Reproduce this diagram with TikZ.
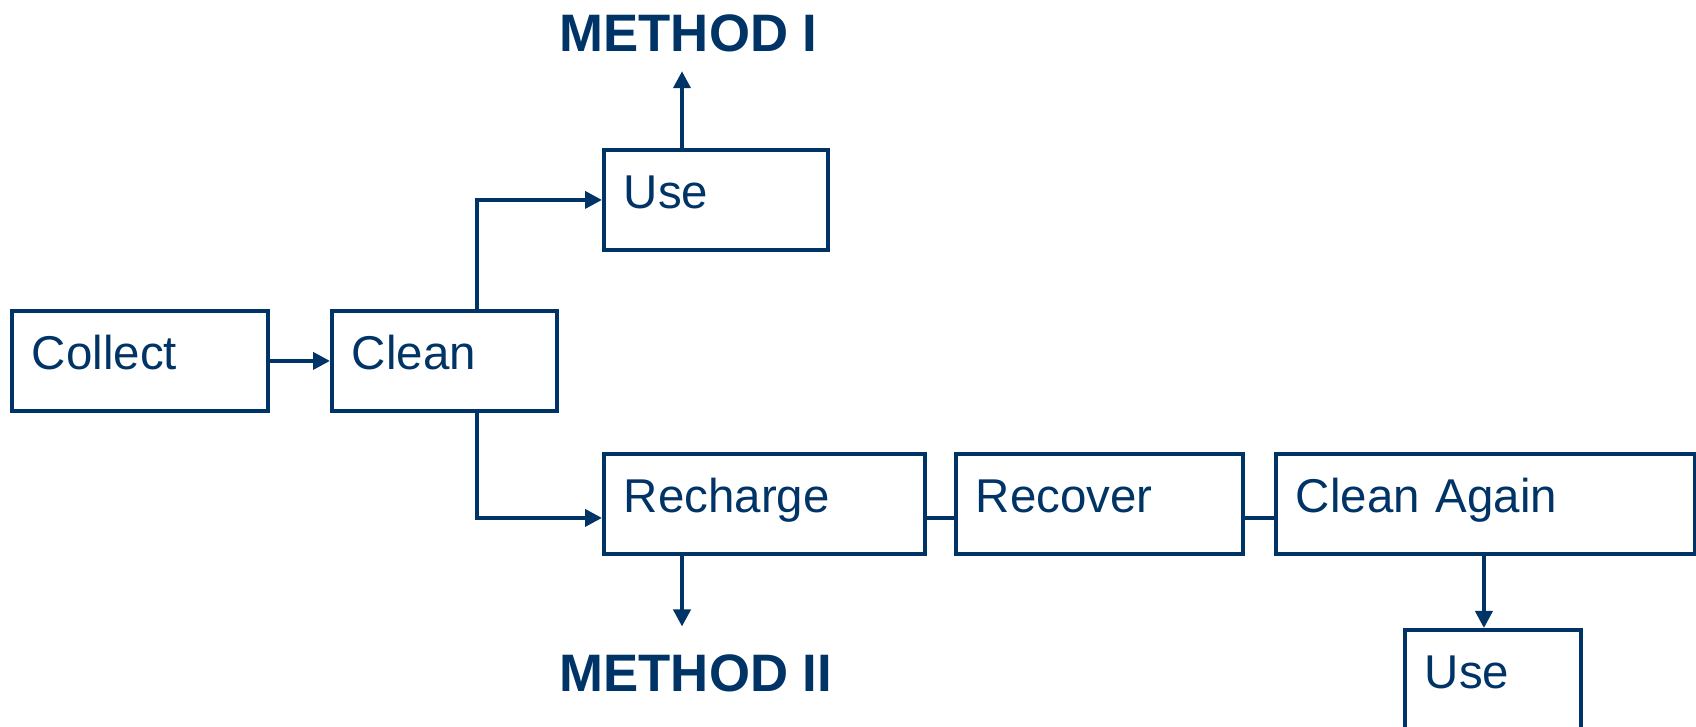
\documentclass[tikz,border=0pt]{standalone}
\usepackage{fontspec}
\setmainfont{Liberation Sans}
\usetikzlibrary{positioning, arrows.meta}
\definecolor{navy}{RGB}{0,51,102}

\begin{document}
\begin{tikzpicture}[
        box/.style={draw=navy, line width=1.1pt, text=navy, anchor=north west, align=left,
            inner xsep=2mm, inner ysep=0pt, text height=5.9mm, text depth=4.1mm,
            font=\fontsize{13.5}{16}\selectfont},
        method/.style={text=navy, anchor=base west, inner xsep=0pt,
            font=\fontsize{15}{18}\selectfont\bfseries},
        link/.style={draw=navy, line width=1.1pt},
        arr/.style={link, -{Triangle[length=1.7mm, width=1.7mm]}}]
            \useasboundingbox (0,0) rectangle (16.96,7.27);
            \node[box, text width=21.6mm] (collect) at (0.10,4.18) {Collect};
            \node[box, text width=18.5mm] (clean) at (3.30,4.18) {Clean};
            \node[box, text width=18.4mm] (use1) at (6.02,5.79) {Use};
            \node[box, text width=28.1mm] (recharge) at (6.02,2.75) {Recharge};
            \node[box, text width=24.7mm] (recover) at (9.54,2.75) {Recover};
            \node[box, text width=37.9mm] (cleanagain) at (12.74,2.75) {Clean Again};
            \node[box, text width=13.6mm] (use2) at (14.03,0.99) {Use};
            \node[method, inner ysep=1.8mm] (mone) at (5.59,6.75) {METHOD I};
            \node[method, inner ysep=2.8mm] (mtwo) at (5.59,0.35) {METHOD II};
            \coordinate (up1) at ([xshift=8mm]use1.north west);
            \coordinate (down2) at ([xshift=8mm]recharge.south west);
            \draw[arr] (collect) -- (clean);
            \draw[arr] ([xshift=3.25mm]clean.north) |- (use1.west);
            \draw[arr] ([xshift=3.25mm]clean.south) |- ([yshift=-1.4mm]recharge.west);
            \draw[link] ([yshift=-1.4mm]recharge.east) -- ([yshift=-1.4mm]recover.west);
            \draw[link] ([yshift=-1.4mm]recover.east) -- ([yshift=-1.4mm]cleanagain.west);
            \draw[arr] (up1) -- (up1 |- mone.south);
            \draw[arr] (down2) -- (down2 |- mtwo.north);
            \draw[arr] ([xshift=-0.9mm]use2.north |- cleanagain.south) -- ([xshift=-0.9mm]use2.north);
        \end{tikzpicture}
\end{document}
